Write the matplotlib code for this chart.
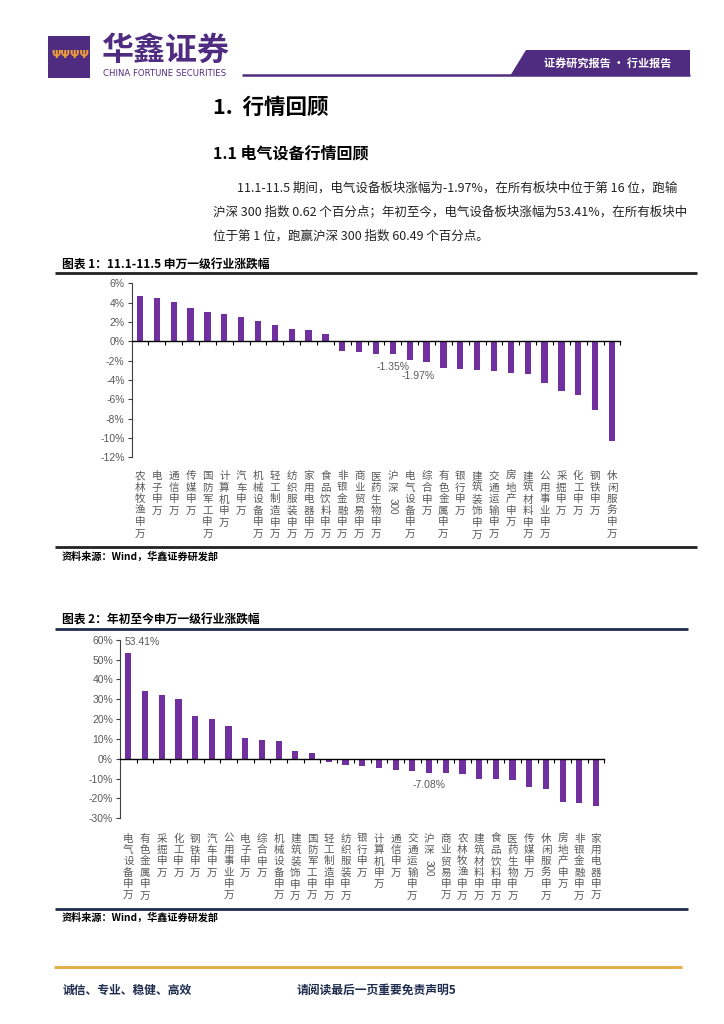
import numpy as np
import matplotlib
matplotlib.use('Agg')
import matplotlib.pyplot as plt
from matplotlib.patches import Rectangle, Polygon
from matplotlib.lines import Line2D

plt.rcParams['font.family'] = ['Noto Sans CJK SC', 'DejaVu Sans']
plt.rcParams['axes.unicode_minus'] = False

# 图表1：11.1-11.5 申万一级行业涨跌幅 (%)
ind1 = ['农林牧渔申万', '电子申万', '通信申万', '传媒申万', '国防军工申万', '计算机申万',
        '汽车申万', '机械设备申万', '轻工制造申万', '纺织服装申万', '家用电器申万',
        '食品饮料申万', '非银金融申万', '商业贸易申万', '医药生物申万', '沪深300',
        '电气设备申万', '综合申万', '有色金属申万', '银行申万', '建筑装饰申万',
        '交通运输申万', '房地产申万', '建筑材料申万', '公用事业申万', '采掘申万',
        '化工申万', '钢铁申万', '休闲服务申万']
chg1 = [4.73, 4.45, 4.03, 3.48, 3.04, 2.83, 2.48, 2.14, 1.73, 1.28, 1.21, 0.80,
        -1.03, -1.07, -1.33, -1.35, -1.97, -2.17, -2.76, -2.86, -3.00, -3.07,
        -3.24, -3.41, -4.34, -5.10, -5.55, -7.13, -10.34]
yticks1 = [-12, -10, -8, -6, -4, -2, 0, 2, 4, 6]

# 图表2：年初至今申万一级行业涨跌幅 (%)
ind2 = ['电气设备申万', '有色金属申万', '采掘申万', '化工申万', '钢铁申万', '汽车申万',
        '公用事业申万', '电子申万', '综合申万', '机械设备申万', '建筑装饰申万',
        '国防军工申万', '轻工制造申万', '纺织服装申万', '银行申万', '计算机申万',
        '通信申万', '交通运输申万', '沪深300', '商业贸易申万', '农林牧渔申万',
        '建筑材料申万', '食品饮料申万', '医药生物申万', '传媒申万', '休闲服务申万',
        '房地产申万', '非银金融申万', '家用电器申万']
chg2 = [53.41, 34.2, 32.0, 30.2, 21.6, 19.9, 16.4, 10.6, 9.4, 8.9, 4.0, 2.7,
        -1.7, -3.0, -3.7, -4.9, -5.5, -6.0, -7.08, -7.2, -7.7, -10.2, -10.4,
        -10.9, -14.1, -15.4, -22.0, -22.5, -23.8]
yticks2 = [-30, -20, -10, 0, 10, 20, 30, 40, 50, 60]

# 数据标签: 类别 -> (文字, x偏移pt, y偏移pt)
marks1 = {'沪深300': ('-1.35%', 0, -9), '电气设备申万': ('-1.97%', 6, -11)}
marks2 = {'电气设备申万': ('53.41%', 10, 7.5), '沪深300': ('-7.08%', 0, -9)}

W, H = 724, 1024
PURPLE = '#7030A0'
LOGO = '#4F2C80'
NAVY = '#1F2D4F'
GRAY = '#595959'


def fx(x):
    return x / W


def fy(y):
    return 1 - y / H


fig = plt.figure(figsize=(W / 100, H / 100), dpi=100)


def hline(x0, x1, y, color, lw):
    fig.add_artist(Line2D([fx(x0), fx(x1)], [fy(y), fy(y)], transform=fig.transFigure,
                          color=color, lw=lw, solid_capstyle='butt'))


def ftext(x, y, s, **kw):
    fig.text(fx(x), fy(y), s, va='center', **kw)


# ---- header ----
fig.add_artist(Rectangle((fx(48), fy(78)), fx(42), 42 / H, transform=fig.transFigure,
                         color=LOGO, lw=0))
ftext(70, 55, 'ΨΨΨΨ', ha='center', fontsize=8, color='#F2A03A', fontweight='bold',
      family='DejaVu Sans')
ftext(101, 51, '华鑫证券', fontsize=23, color=LOGO, fontweight='bold')
ftext(103, 74, 'CHINA FORTUNE SECURITIES', fontsize=6.8, color=LOGO,
      family='DejaVu Sans', fontstretch='condensed')
hline(242, 690, 75, LOGO, 1.8)
fig.add_artist(Polygon([(fx(510), fy(76)), (fx(526), fy(50)), (fx(690), fy(50)),
                        (fx(690), fy(76))], closed=True, transform=fig.transFigure,
                       color=LOGO, lw=0))
ftext(608, 63, '证券研究报告 • 行业报告', ha='center', fontsize=8, color='white',
      fontweight='bold')

# ---- section text ----
ftext(213, 107, '1.  行情回顾', fontsize=15.5, fontweight='bold', color='black')
ftext(213, 153, '1.1 电气设备行情回顾', fontsize=11.5, fontweight='bold', color='black')
body = ['11.1-11.5 期间，电气设备板块涨幅为-1.97%，在所有板块中位于第 16 位，跑输',
        '沪深 300 指数 0.62 个百分点；年初至今，电气设备板块涨幅为53.41%，在所有板块中',
        '位于第 1 位，跑赢沪深 300 指数 60.49 个百分点。']
for k, line in enumerate(body):
    ftext(237 if k == 0 else 213, 188 + 24 * k, line, fontsize=9, color='#222222')


def draw_chart(rect, names, vals, yt, marks, ylab_top, fs_lab, ls):
    ax = fig.add_axes(rect)
    x = np.arange(len(names))
    ax.bar(x, vals, width=0.37, color=PURPLE)
    ax.set_xlim(-0.5, len(names) - 0.5)
    ax.set_ylim(yt[0], yt[-1])
    ax.set_yticks(yt)
    ax.set_yticklabels(['%d%%' % v for v in yt], family='Liberation Sans')
    ax.set_xticks(x + 0.5)
    ax.set_xticklabels([])
    ax.tick_params(axis='x', direction='out', length=3, width=0.8, color='black')
    ax.tick_params(axis='y', direction='out', length=3, width=0.8, color='#404040',
                   labelsize=7.5, labelcolor=GRAY, pad=2)
    for s in ['top', 'right']:
        ax.spines[s].set_visible(False)
    ax.spines['bottom'].set_position(('data', 0))
    ax.spines['bottom'].set_linewidth(1.0)
    ax.spines['left'].set_color('#404040')
    ax.spines['left'].set_linewidth(0.8)
    ax.patch.set_alpha(0)
    step = fs_lab * ls
    for i, name in enumerate(names):
        if name.endswith('300'):
            head = name[:-3]
            ax.annotate('\n'.join(head), xy=(i, 0), xycoords=('data', 'axes fraction'),
                        xytext=(0, ylab_top), textcoords='offset points', ha='center',
                        va='top', fontsize=fs_lab, color=GRAY, linespacing=ls)
            ax.annotate('300', xy=(i, 0), xycoords=('data', 'axes fraction'),
                        xytext=(0, ylab_top - len(head) * step - 1), textcoords='offset points',
                        ha='center', va='top', rotation=-90, fontsize=fs_lab - 0.5,
                        color=GRAY, family='Liberation Sans')
        else:
            ax.annotate('\n'.join(name), xy=(i, 0), xycoords=('data', 'axes fraction'),
                        xytext=(0, ylab_top), textcoords='offset points', ha='center',
                        va='top', fontsize=fs_lab, color=GRAY, linespacing=ls)
        if name in marks:
            txt, dx, dy = marks[name]
            ax.annotate(txt, xy=(i, vals[i]), xytext=(dx, dy), textcoords='offset points',
                        ha='center', va='center', fontsize=7.5, color=GRAY,
                        family='Liberation Sans')
    return ax


# ---- chart 1 ----
ftext(62, 265, '图表 1：11.1-11.5 申万一级行业涨跌幅', fontsize=8.5, fontweight='bold',
      color='black')
hline(55, 697, 273, '#222222', 2.0)
draw_chart([fx(131.6), fy(457.3), (620.4 - 131.6) / W, (457.3 - 283.3) / H],
           ind1, chg1, yticks1, marks1, -10, 7.6, 1.19)
hline(55, 697, 547, '#222222', 2.0)
ftext(62, 557, '资料来源：Wind，华鑫证券研发部', fontsize=7.3, fontweight='bold',
      color='black')

# ---- chart 2 ----
ftext(62, 620, '图表 2：年初至今申万一级行业涨跌幅', fontsize=8.5, fontweight='bold',
      color='black')
hline(55, 688, 629, NAVY, 2.0)
draw_chart([fx(120), fy(818.3), (604.4 - 120) / W, (818.3 - 639.7) / H],
           ind2, chg2, yticks2, marks2, -11, 7.6, 1.17)
hline(55, 688, 909, NAVY, 2.0)
ftext(62, 918, '资料来源：Wind，华鑫证券研发部', fontsize=7.3, fontweight='bold',
      color='black')

# ---- footer ----
hline(54, 682, 967, '#E2B048', 2.2)
ftext(63, 990, '诚信、专业、稳健、高效', fontsize=8.5, fontweight='bold', color=NAVY)
ftext(297, 990, '请阅读最后一页重要免责声明5', fontsize=8.5, fontweight='bold', color=NAVY)

fig.savefig('out.png', dpi=100)
